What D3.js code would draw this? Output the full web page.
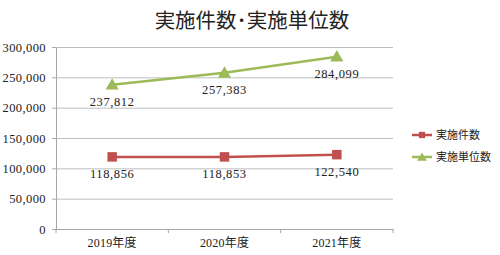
<!DOCTYPE html>
<html>
<head>
<meta charset="utf-8">
<script src="https://cdn.jsdelivr.net/npm/d3@7"></script>
<style>
  body { margin: 0; background: #fff; }
  svg { display: block; }
  .tick text { font-family: "Liberation Serif", "DejaVu Serif", serif; font-size: 12.5px; letter-spacing: 0.4px; fill: #222; }
  .lbl { font-family: "Liberation Serif", "DejaVu Serif", serif; font-size: 12.5px; letter-spacing: 0.6px; fill: #222; }
</style>
</head>
<body>
<svg id="chart" width="500" height="255"></svg>
<script>
const years = ["2019年度", "2020年度", "2021年度"]
const seriesNames = ["実施件数", "実施単位数"]
const kensu = [118856, 118853, 122540]
const tani = [237812, 257383, 284099]
const yTicks = [0, 50000, 100000, 150000, 200000, 250000, 300000]

const colors = ["#C0504D", "#9BBB59"]
const svg = d3.select("#chart")

const plotLeft = 56, plotRight = 393, plotTop = 47, plotBottom = 229

const xScale = d3.scaleBand()
  .range([plotLeft, plotRight])
  .domain(years)

const yScale = d3.scaleLinear()
  .range([plotBottom, plotTop])
  .domain([0, 300000])

// grid
svg.append('g')
  .attr('transform', `translate(${plotLeft}, 0)`)
  .call(d3.axisLeft(yScale).tickValues(yTicks).tickSize(-(plotRight - plotLeft)).tickFormat(''))
  .call(g => g.select('.domain').remove())
  .call(g => g.selectAll('line').attr('stroke', '#BEBEBE'))

// y axis
svg.append('g')
  .attr('transform', `translate(${plotLeft}, 0)`)
  .call(d3.axisLeft(yScale).tickValues(yTicks).tickSize(4).tickPadding(6).tickFormat(d3.format(',')))
  .call(g => g.select('.domain').attr('stroke', '#A6A6A6'))
  .call(g => g.selectAll('line').attr('stroke', '#A6A6A6'))

// x axis
const xAxis = svg.append('g')
  .attr('transform', `translate(0, ${plotBottom})`)
  .call(d3.axisBottom(xScale).tickSize(0).tickPadding(9))
xAxis.select('.domain').attr('stroke', '#A6A6A6')
xAxis.selectAll('text')
  .style('font-family', '"Liberation Serif", "Noto Sans CJK JP", serif')
  .style('font-size', '12px')
  .style('letter-spacing', '0.2px')
// category boundary ticks
xAxis.selectAll('.sep')
  .data([0, 1, 2, 3])
  .enter()
  .append('line')
  .attr('x1', i => plotLeft + i * xScale.step())
  .attr('x2', i => plotLeft + i * xScale.step())
  .attr('y1', 0)
  .attr('y2', 4)
  .attr('stroke', '#A6A6A6')

const cx = (d, i) => xScale(years[i]) + xScale.bandwidth() / 2

const line = d3.line()
  .x((d, i) => cx(d, i))
  .y(d => yScale(d))

const allSeries = [kensu, tani]
allSeries.forEach((vals, s) => {
  svg.append('path')
    .datum(vals)
    .attr('fill', 'none')
    .attr('stroke', colors[s])
    .attr('stroke-width', 2.5)
    .attr('d', line)

  const sym = d3.symbol().type(s == 0 ? d3.symbolSquare : d3.symbolTriangle).size(s == 0 ? 90 : 75)
  svg.selectAll('.m' + s)
    .data(vals)
    .enter()
    .append('path')
    .attr('transform', (d, i) => `translate(${cx(d, i)}, ${yScale(d) + (s == 1 ? 1 : 0)})`)
    .attr('d', sym)
    .attr('fill', colors[s])

  svg.selectAll('.l' + s)
    .data(vals)
    .enter()
    .append('text')
    .attr('class', 'lbl')
    .attr('x', (d, i) => cx(d, i))
    .attr('y', d => yScale(d) + 21)
    .attr('text-anchor', 'middle')
    .text(d => d3.format(',')(d))
})

// title
svg.append('text')
  .attr('x', 252)
  .attr('y', 28)
  .attr('text-anchor', 'middle')
  .style('font-family', '"Noto Sans CJK JP", sans-serif')
  .style('font-size', '20.5px')
  .style('fill', '#222')
  .text('実施件数･実施単位数')

// legend
seriesNames.forEach((name, s) => {
  const y = 135 + s * 22
  svg.append('line')
    .attr('x1', 412).attr('x2', 432)
    .attr('y1', y).attr('y2', y)
    .attr('stroke', colors[s]).attr('stroke-width', 2.5)
  svg.append('path')
    .attr('transform', `translate(422, ${y + (s == 1 ? 1 : 0)})`)
    .attr('d', d3.symbol().type(s == 0 ? d3.symbolSquare : d3.symbolTriangle).size(40))
    .attr('fill', colors[s])
  svg.append('text')
    .attr('x', 436)
    .attr('y', y + 4)
    .style('font-family', '"Noto Sans CJK JP", sans-serif')
    .style('font-size', '11px')
    .style('fill', '#222')
    .text(name)
})
</script>
</body>
</html>
